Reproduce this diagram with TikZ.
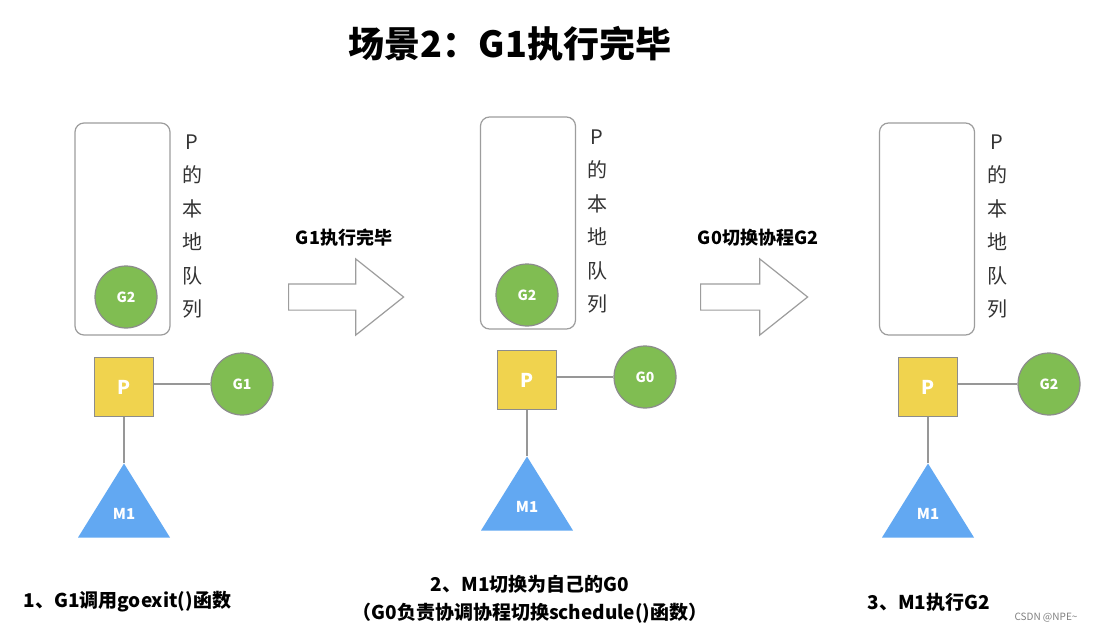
\documentclass[tikz,border=0pt]{standalone}
\usepackage{fontspec}
\setmainfont{Noto Sans CJK SC}
\usetikzlibrary{shapes.geometric,shapes.arrows}
\definecolor{gyellow}{HTML}{F0D34E}
\definecolor{ggreen}{HTML}{80BD52}
\definecolor{gblue}{HTML}{62A8F2}
\definecolor{gline}{HTML}{8C8C8C}

\begin{document}
\begin{tikzpicture}[x=1pt,y=-1pt,
    queue/.style={draw=gline!85,line width=1.2pt,rounded corners=9pt,minimum width=95pt,minimum height=212pt,inner sep=0pt},
    qlabel/.style={align=center,text=black!80,font=\fontsize{20}{33.4}\selectfont},
    gor/.style={draw=gline,line width=1.2pt,circle,fill=ggreen,minimum size=62pt,inner sep=0pt,text=white,font=\bfseries\fontsize{14}{16}\selectfont},
    proc/.style={draw=gline,line width=1.2pt,fill=gyellow,minimum size=59pt,inner sep=0pt,text=white,font=\bfseries\fontsize{19}{22}\selectfont},
    mach/.style={fill=gblue,isosceles triangle,isosceles triangle stretches,shape border rotate=90,minimum width=92pt,minimum height=74pt,inner sep=0pt,anchor=apex},
    mtext/.style={text=white,font=\bfseries\fontsize{15}{18}\selectfont},
    link/.style={draw=gline!90,line width=1.2pt},
    bigarrow/.style={single arrow,draw=gline!85,line width=1.2pt,fill=white,minimum width=75pt,single arrow head extend=25pt,single arrow tip angle=77,inner sep=12.5pt,anchor=tail},
    step label/.style={font=\bfseries\fontsize{18}{22}\selectfont},
    caption/.style={font=\bfseries\fontsize{19}{28}\selectfont,align=center}]
  \useasboundingbox[fill=white] (0,0) rectangle (1094,632);

  % title
  \node[font=\bfseries\fontsize{36}{40}\selectfont] (title) at (510,44) {场景2：G1执行完毕};

  % stage 1
  \node[queue] (q1) at (122.5,229) {};
  \node[qlabel] (ql1) at (192,226.5) {P\\的\\本\\地\\队\\列};
  \node[gor] (g2a) at (126,297) {G2};
  \node[proc] (p1) at (124,387) {P};
  \node[gor] (g1) at (242,384) {G1};
  \node[mach] (m1a) at (124,463) {};
  \node[mtext] (m1at) at ([yshift=-51pt]m1a.apex) {M1};
  \path[link] (p1.east |- g1.west) -- (g1.west);
  \path[link] (p1.south) -- (m1a.apex);

  % arrow 1
  \node[bigarrow,minimum height=115pt] (a1) at (288,297) {};
  \node[step label] (a1t) at (344,238) {G1执行完毕};

  % stage 2
  \node[queue] (q2) at (528,223) {};
  \node[qlabel] (ql2) at (597,221.5) {P\\的\\本\\地\\队\\列};
  \node[gor] (g2b) at (527,295) {G2};
  \node[proc] (p2) at (527,380) {P};
  \node[gor] (g0) at (645,377) {G0};
  \node[mach] (m1b) at (527,456) {};
  \node[mtext] (m1bt) at ([yshift=-51pt]m1b.apex) {M1};
  \path[link] (p2.east |- g0.west) -- (g0.west);
  \path[link] (p2.south) -- (m1b.apex);

  % arrow 2
  \node[bigarrow,minimum height=107pt] (a2) at (700,297) {};
  \node[step label] (a2t) at (758,238) {G0切换协程G2};

  % stage 3
  \node[queue] (q3) at (927,229) {};
  \node[qlabel] (ql3) at (997,226.5) {P\\的\\本\\地\\队\\列};
  \node[proc] (p3) at (928,387) {P};
  \node[gor] (g2c) at (1049,384) {G2};
  \node[mach] (m1c) at (928,463) {};
  \node[mtext] (m1ct) at ([yshift=-51pt]m1c.apex) {M1};
  \path[link] (p3.east |- g2c.west) -- (g2c.west);
  \path[link] (p3.south) -- (m1c.apex);

  % captions
  \node[caption,anchor=west] (c1) at (20,602) {1、G1调用goexit()函数};
  \node[caption] (c2) at (530,599) {2、M1切换为自己的G0\\（G0负责协调协程切换schedule()函数）};
  \node[caption,anchor=west] (c3) at (864,602) {3、M1执行G2};
  \node[text=gray,font=\fontsize{10}{12}\selectfont] (mark) at (1046,618) {CSDN @NPE\textasciitilde};
\end{tikzpicture}
\end{document}
